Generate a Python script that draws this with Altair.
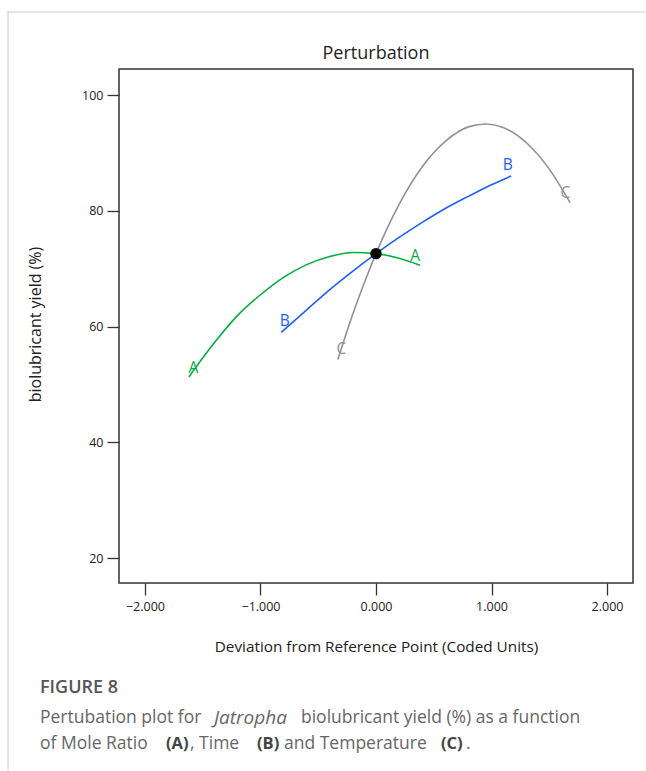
import altair as alt
import pandas as pd

# ---- data ----
a_x = [-1.62, -1.4, -1.2, -1.0, -0.8, -0.6, -0.4, -0.2, 0.0, 0.2, 0.38]
a_y = [51.3, 57.2, 61.9, 65.5, 68.5, 70.7, 72.1, 72.8, 72.6, 71.8, 70.6]
b_x = [-0.82, -0.6, -0.4, -0.2, 0.0, 0.2, 0.4, 0.6, 0.8, 1.0, 1.17]
b_y = [59.0, 62.9, 66.4, 69.6, 72.6, 75.4, 78.0, 80.4, 82.5, 84.5, 86.0]
c_x = [-0.33, -0.2, -0.1, 0.0, 0.2, 0.4, 0.6, 0.8, 0.95, 1.1, 1.3, 1.5, 1.68]
c_y = [54.3, 62.2, 67.6, 72.6, 81.1, 87.6, 92.0, 94.5, 95.0, 94.4, 91.8, 87.2, 81.4]

ref_x = [0.0]
ref_y = [72.6]

lab_text = ["A", "A", "B", "B", "C", "C"]
lab_x = [-1.58, 0.34, -0.79, 1.14, -0.30, 1.64]
lab_y = [52.8, 72.2, 60.9, 87.9, 56.1, 83.0]

series = ["A", "B", "C"]
colors = ["#00b140", "#1f5fff", "#929292"]

x_ticks = [-2, -1, 0, 1, 2]
y_ticks = [20, 40, 60, 80, 100]

rows = []
for s, xs, ys in (("A", a_x, a_y), ("B", b_x, b_y), ("C", c_x, c_y)):
    for i, (xv, yv) in enumerate(zip(xs, ys)):
        rows.append({"factor": s, "x": xv, "y": yv, "order": i})
lines_df = pd.DataFrame(rows)
ref_df = pd.DataFrame({"x": ref_x, "y": ref_y})
lab_df = pd.DataFrame({"factor": lab_text, "x": lab_x, "y": lab_y})

W, H = 514, 514
FONT = "Open Sans"

xscale = alt.Scale(domain=[-2.225, 2.225], nice=False, zero=False)
yscale = alt.Scale(domain=[15.7, 104.5], nice=False, zero=False)
cscale = alt.Scale(domain=series, range=colors)

xaxis = alt.Axis(values=x_ticks, format=".3f", grid=False, domain=False,
                 tickSize=12, tickColor="#333", tickWidth=1.3,
                 labelFont=FONT, labelFontSize=12.5, labelColor="#222", labelPadding=5,
                 title="Deviation from Reference Point (Coded Units)",
                 titleFont=FONT, titleFontSize=15.3, titleFontWeight="normal",
                 titleColor="#222", titleX=W / 2, titleY=63, titleBaseline="middle")
yaxis = alt.Axis(values=y_ticks, grid=False, domain=False,
                 tickSize=12, tickColor="#333", tickWidth=1.3,
                 labelFont=FONT, labelFontSize=12.5, labelColor="#222", labelPadding=4,
                 title="biolubricant yield (%)",
                 titleFont=FONT, titleFontSize=16, titleFontWeight="normal",
                 titleColor="#222", titleX=-84, titleY=255, titleBaseline="middle",
                 titleAngle=-90, titleAlign="center")

base = alt.Chart(lines_df)
lines = base.mark_line(strokeWidth=1.6, interpolate="monotone").encode(
    x=alt.X("x:Q", scale=xscale, axis=xaxis),
    y=alt.Y("y:Q", scale=yscale, axis=yaxis),
    color=alt.Color("factor:N", scale=cscale, legend=None),
    detail="factor:N",
    order="order:Q",
)

ref = alt.Chart(ref_df).mark_circle(size=130, color="#000", opacity=1).encode(
    x=alt.X("x:Q", scale=xscale), y=alt.Y("y:Q", scale=yscale))

labels = alt.Chart(lab_df).mark_text(font=FONT, fontSize=15.5, baseline="middle",
                                     align="center").encode(
    x=alt.X("x:Q", scale=xscale), y=alt.Y("y:Q", scale=yscale),
    text="factor:N",
    color=alt.Color("factor:N", scale=cscale, legend=None))

one = pd.DataFrame({"k": [0]})

title = alt.Chart(one).mark_text(text="Perturbation", font=FONT, fontSize=18,
                                 color="#222", align="center",
                                 baseline="middle").encode(
    x=alt.value(W / 2), y=alt.value(54 - 69))

# frame lines of the figure page
frame_top = alt.Chart(one).mark_rule(color="#cccccc", strokeWidth=1).encode(
    x=alt.value(-112), x2=alt.value(527), y=alt.value(-57))
frame_left = alt.Chart(one).mark_rule(color="#cccccc", strokeWidth=1).encode(
    x=alt.value(-111), y=alt.value(-57), y2=alt.value(702))

CAP = "#666666"
def cap(text, px, py, size=17.5, weight="normal", style="normal", color=CAP):
    return alt.Chart(one).mark_text(text=text, font=FONT, fontSize=size,
                                    fontWeight=weight, fontStyle=style,
                                    align="left", baseline="middle",
                                    color=color).encode(
        x=alt.value(px - 119), y=alt.value(py - 69))

caption = [
    cap("FIGURE 8", 40, 688, size=18, weight=600, color="#555555"),
    cap("Pertubation plot for ", 40, 718),
    cap("Jatropha", 214, 718, size=19, style="italic"),
    cap("biolubricant yield (%) as a function", 301, 718),
    cap("of Mole Ratio ", 40, 744),
    cap("(A)", 166, 744, size=16.5, weight="bold", color="#444444"),
    cap(", Time ", 190, 744),
    cap("(B)", 257, 744, size=16.5, weight="bold", color="#444444"),
    cap(" and Temperature ", 284, 744),
    cap("(C)", 441, 744, size=16.5, weight="bold", color="#444444"),
    cap(".", 466, 744),
]

chart = alt.layer(lines, labels, ref, title, frame_top, frame_left, *caption).properties(
    width=W, height=H,
    autosize=alt.AutoSizeParams(type="none"),
    padding={"left": 119, "top": 69, "right": 13, "bottom": 188},
).configure(background="white", view=alt.ViewConfig(stroke="#333333", strokeWidth=1.5))

chart.save("out.html", embed_options={"renderer": "svg", "actions": False})
